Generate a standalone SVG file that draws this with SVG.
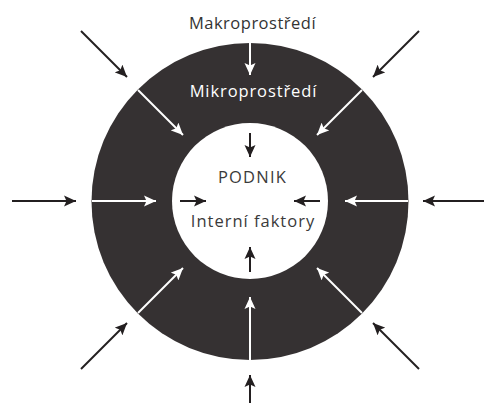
<svg xmlns="http://www.w3.org/2000/svg" width="484" height="403" viewBox="0 0 484 403">
<style>
.t{font-family:"Open Sans","Noto Sans","Liberation Sans",sans-serif;font-size:16.5px;text-anchor:middle}
.b{stroke:#231f20;stroke-width:2;fill:none}
.w{stroke:#ffffff;stroke-width:2;fill:none}
</style>
<defs>
<marker id="ab" markerUnits="userSpaceOnUse" markerWidth="14" markerHeight="12" refX="12" refY="6" orient="auto">
<path d="M0,0.5 L12,6 L0,11.5 L2.5,6 Z" fill="#231f20"/>
</marker>
<marker id="aw" markerUnits="userSpaceOnUse" markerWidth="14" markerHeight="12" refX="12" refY="6" orient="auto">
<path d="M0,0.5 L12,6 L0,11.5 L2.5,6 Z" fill="#ffffff"/>
</marker>
</defs>
<rect width="484" height="403" fill="#ffffff"/>
<g id="mikroprostredi">
<circle cx="250" cy="201.5" r="158.5" fill="#353132"/>
<text class="t" x="253.5" y="97" fill="#ffffff" letter-spacing="0.9">Mikroprostředí</text>
</g>
<g id="podnik">
<circle cx="250" cy="201" r="78" fill="#ffffff"/>
<text class="t" x="252.5" y="183" fill="#3a3a3a" letter-spacing="1.2">PODNIK</text>
<text class="t" x="253" y="226.5" fill="#3a3a3a" letter-spacing="1">Interní faktory</text>
</g>
<g id="makroprostredi">
<text class="t" x="252.5" y="29" fill="#333333" letter-spacing="0.5">Makroprostředí</text>
</g>
<g id="connectors">
<line class="b" x1="81" y1="31" x2="127" y2="77" marker-end="url(#ab)"/>
<line class="b" x1="419" y1="31" x2="373" y2="77" marker-end="url(#ab)"/>
<line class="b" x1="12" y1="201" x2="76" y2="201" marker-end="url(#ab)"/>
<line class="b" x1="484" y1="201" x2="423" y2="201" marker-end="url(#ab)"/>
<line class="b" x1="81" y1="369" x2="127" y2="323" marker-end="url(#ab)"/>
<line class="b" x1="419" y1="369" x2="373" y2="323" marker-end="url(#ab)"/>
<line class="b" x1="250" y1="403" x2="250" y2="375" marker-end="url(#ab)"/>
<line class="w" x1="250" y1="43" x2="250" y2="75" marker-end="url(#aw)"/>
<line class="w" x1="138" y1="90" x2="183" y2="135" marker-end="url(#aw)"/>
<line class="w" x1="362" y1="90" x2="317" y2="135" marker-end="url(#aw)"/>
<line class="w" x1="92" y1="201" x2="156" y2="201" marker-end="url(#aw)"/>
<line class="w" x1="408" y1="201" x2="345" y2="201" marker-end="url(#aw)"/>
<line class="w" x1="138" y1="313" x2="183" y2="268" marker-end="url(#aw)"/>
<line class="w" x1="362" y1="313" x2="317" y2="268" marker-end="url(#aw)"/>
<line class="w" x1="250" y1="360" x2="250" y2="297" marker-end="url(#aw)"/>
<line class="b" x1="250" y1="133" x2="250" y2="157" marker-end="url(#ab)"/>
<line class="b" x1="250" y1="272" x2="250" y2="247" marker-end="url(#ab)"/>
<line class="b" x1="180" y1="201" x2="206" y2="201" marker-end="url(#ab)"/>
<line class="b" x1="320" y1="201" x2="294" y2="201" marker-end="url(#ab)"/>
</g>
</svg>
